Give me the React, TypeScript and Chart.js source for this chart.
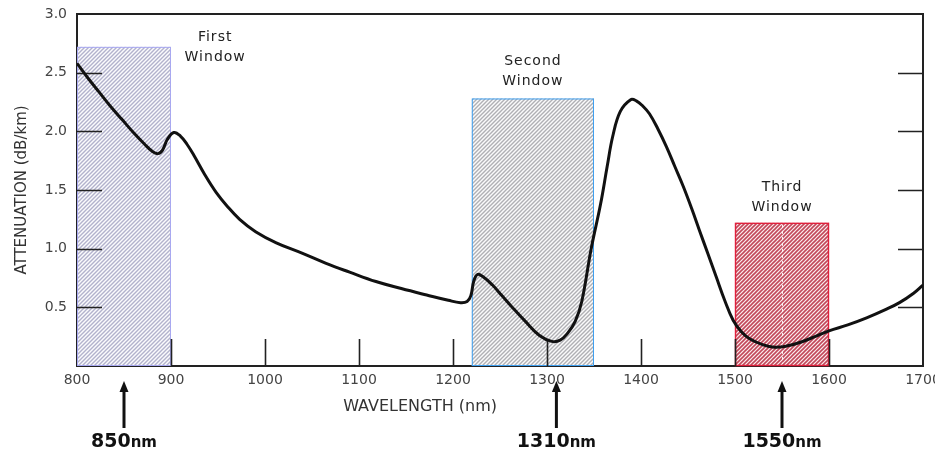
import React, { useEffect, useRef } from 'react';
import { Chart, registerables } from 'chart.js';

Chart.register(...registerables);

// ---- data ----
const wavelengths = [
  800, 812, 824, 836, 848, 860, 872, 880, 886, 891, 896, 903, 910, 917, 924, 936, 948, 960, 973, 990,
  1012, 1040, 1065, 1090, 1118, 1145, 1172, 1195, 1208, 1215, 1219, 1222, 1226, 1232, 1242, 1252, 1262,
  1277, 1292, 1305, 1314, 1322, 1330, 1337, 1347, 1357, 1364, 1370, 1378, 1389, 1395, 1402, 1409, 1418, 1427,
  1436, 1445, 1454, 1462, 1471, 1480, 1489, 1498, 1507, 1516, 1530, 1542, 1555, 1569, 1585, 1600, 1620,
  1640, 1660, 1675, 1690, 1700,
];
const attenuation = [
  2.58, 2.45, 2.33, 2.21, 2.1, 1.99, 1.89, 1.83, 1.81, 1.84, 1.93, 1.99, 1.96, 1.89, 1.8, 1.63, 1.48, 1.36, 1.25, 1.145,
  1.05, 0.96, 0.875, 0.8, 0.72, 0.66, 0.605, 0.56, 0.54, 0.55, 0.6, 0.72, 0.78, 0.76, 0.69, 0.6, 0.51,
  0.38, 0.26, 0.21, 0.22, 0.28, 0.38, 0.55, 1.0, 1.38, 1.7, 1.96, 2.17, 2.27, 2.26, 2.215, 2.15, 2.02, 1.87,
  1.7, 1.53, 1.34, 1.16, 0.96, 0.76, 0.56, 0.39, 0.29, 0.23, 0.18, 0.16, 0.17, 0.2, 0.25, 0.3, 0.35,
  0.41, 0.48, 0.54, 0.62, 0.69,
];
const xTickValues = [800, 900, 1000, 1100, 1200, 1300, 1400, 1500, 1600, 1700];
const yTickValues = [0, 0.5, 1.0, 1.5, 2.0, 2.5, 3.0];
const innerXTicks = [900, 1000, 1100, 1200, 1300, 1400, 1500, 1600];
const innerYTicks = [0.5, 1.0, 1.5, 2.0, 2.5];

const windowTitles = ['First', 'Second', 'Third'];
const windowSubtitle = 'Window';
const windowStart = [800, 1220, 1500];
const windowEnd = [900, 1350, 1600];
const windowTop = [2.72, 2.28, 1.22];
const windowLabelX = [947, 1285, 1550];
const windowLabelY = [2.8, 2.6, 1.52];

const markerWavelengths = [850, 1310, 1550];
const markerNumbers = ['850', '1310', '1550'];
const markerUnit = 'nm';

const xTitle = 'WAVELENGTH (nm)';
const xTitleCenter = 1165;
const yTitle = 'ATTENUATION (dB/km)';

// ---- styles ----
const windowStyles = [
  { bg: '#fbfbfd', fg: '#b2b2cc', border: '#a8a8f0', lw: 1, hl: 1.4, p: 4 },
  { bg: '#fbfbfb', fg: '#b0b0b4', border: '#40a0f0', lw: 1, hl: 1.4, p: 4 },
  { bg: '#fbecee', fg: '#c2485a', border: '#e0203c', lw: 1.4, hl: 1.6, p: 4 },
];

function makeHatch(ctx: CanvasRenderingContext2D, bg: string, fg: string, lw: number, p: number) {
  const c = document.createElement('canvas');
  c.width = p;
  c.height = p;
  const g = c.getContext('2d')!;
  g.fillStyle = bg;
  g.fillRect(0, 0, p, p);
  g.strokeStyle = fg;
  g.lineWidth = lw;
  g.beginPath();
  g.moveTo(0, p);
  g.lineTo(p, 0);
  g.moveTo(-p / 2, p / 2);
  g.lineTo(p / 2, -p / 2);
  g.moveTo(p / 2, p * 1.5);
  g.lineTo(p * 1.5, p / 2);
  g.stroke();
  return ctx.createPattern(c, 'repeat')!;
}

const decorPlugin = {
  id: 'decor',
  beforeDatasetsDraw(chart: any) {
    const { ctx, chartArea, scales } = chart;
    const xs = scales.x;
    const ys = scales.y;
    ctx.save();
    // frame top & right
    ctx.strokeStyle = '#222';
    ctx.lineWidth = 2;
    ctx.beginPath();
    ctx.moveTo(chartArea.left, chartArea.top);
    ctx.lineTo(chartArea.right, chartArea.top);
    ctx.lineTo(chartArea.right, chartArea.bottom);
    ctx.stroke();

    // windows
    windowStart.forEach((s, i) => {
      const st = windowStyles[i];
      const x0 = xs.getPixelForValue(s);
      const x1 = xs.getPixelForValue(windowEnd[i]);
      const y0 = ys.getPixelForValue(windowTop[i]);
      const y1 = ys.getPixelForValue(0);
      ctx.fillStyle = makeHatch(ctx, st.bg, st.fg, st.hl, st.p);
      ctx.fillRect(x0, y0, x1 - x0, y1 - y0);
      ctx.strokeStyle = st.border;
      ctx.lineWidth = st.lw;
      ctx.strokeRect(x0 + 0.5, y0 + 0.5, x1 - x0 - 1, y1 - y0 - 1);
    });
    // dotted centre in third window
    const xc = xs.getPixelForValue(markerWavelengths[2]);
    ctx.strokeStyle = 'rgba(255,255,255,0.9)';
    ctx.lineWidth = 1;
    ctx.setLineDash([3, 3]);
    ctx.beginPath();
    ctx.moveTo(xc + 0.5, ys.getPixelForValue(windowTop[2]) + 2);
    ctx.lineTo(xc + 0.5, ys.getPixelForValue(0) - 2);
    ctx.stroke();
    ctx.setLineDash([]);

    // inner ticks
    ctx.strokeStyle = '#222';
    ctx.lineWidth = 1.6;
    ctx.beginPath();
    innerYTicks.forEach((v) => {
      const y = Math.round(ys.getPixelForValue(v)) + 0.5;
      ctx.moveTo(chartArea.left, y);
      ctx.lineTo(chartArea.left + 25, y);
      ctx.moveTo(chartArea.right - 25, y);
      ctx.lineTo(chartArea.right, y);
    });
    innerXTicks.forEach((v) => {
      const x = Math.round(xs.getPixelForValue(v)) + 0.5;
      ctx.moveTo(x, chartArea.bottom);
      ctx.lineTo(x, chartArea.bottom - 27);
    });
    ctx.stroke();
    ctx.restore();
  },
  afterDraw(chart: any) {
    const { ctx, chartArea, scales } = chart;
    const xs = scales.x;
    const ys = scales.y;
    ctx.save();
    // axis titles
    ctx.fillStyle = '#333';
    ctx.textAlign = 'center';
    ctx.textBaseline = 'middle';
    ctx.font = '16px "DejaVu Sans"';
    ctx.fillText(xTitle, xs.getPixelForValue(xTitleCenter), chartArea.bottom + 41);
    ctx.save();
    ctx.translate(22, (chartArea.top + chartArea.bottom) / 2);
    ctx.rotate(-Math.PI / 2);
    ctx.font = '15px "DejaVu Sans"';
    ctx.fillText(yTitle, 0, 0);
    ctx.restore();

    // window labels
    ctx.fillStyle = '#222';
    ctx.font = '14px "DejaVu Sans"';
    (ctx as any).letterSpacing = '1px';
    windowTitles.forEach((t, i) => {
      const x = xs.getPixelForValue(windowLabelX[i]);
      const y = ys.getPixelForValue(windowLabelY[i]);
      ctx.fillText(t, x, y);
      ctx.fillText(windowSubtitle, x, y + 20);
    });
    (ctx as any).letterSpacing = '0px';

    // arrows + labels
    markerWavelengths.forEach((w, i) => {
      const x = xs.getPixelForValue(w);
      const tip = chartArea.bottom + 15;
      const base = chartArea.bottom + 62;
      ctx.strokeStyle = '#111';
      ctx.fillStyle = '#111';
      ctx.lineWidth = 3;
      ctx.beginPath();
      ctx.moveTo(x, tip + 8);
      ctx.lineTo(x, base);
      ctx.stroke();
      ctx.beginPath();
      ctx.moveTo(x, tip);
      ctx.lineTo(x - 4.5, tip + 11);
      ctx.lineTo(x + 4.5, tip + 11);
      ctx.closePath();
      ctx.fill();

      ctx.textBaseline = 'alphabetic';
      ctx.textAlign = 'left';
      ctx.font = 'bold 19px "DejaVu Sans"';
      const nw = ctx.measureText(markerNumbers[i]).width;
      ctx.font = 'bold 15px "DejaVu Sans"';
      const uw = ctx.measureText(markerUnit).width;
      const start = x - (nw + uw) / 2;
      const baseY = chartArea.bottom + 81;
      ctx.font = 'bold 19px "DejaVu Sans"';
      ctx.fillText(markerNumbers[i], start, baseY);
      ctx.font = 'bold 15px "DejaVu Sans"';
      ctx.fillText(markerUnit, start + nw, baseY);
    });
    ctx.restore();
  },
};

export default function App() {
  const ref = useRef<HTMLCanvasElement | null>(null);
  useEffect(() => {
    if (!ref.current) return;
    const chart = new Chart(ref.current, {
      type: 'line',
      data: {
        datasets: [
          {
            data: wavelengths.map((x, i) => ({ x, y: attenuation[i] })),
            borderColor: '#111',
            borderWidth: 3,
            pointRadius: 0,
            tension: 0.4,
            fill: false,
          },
        ],
      },
      options: {
        animation: false,
        responsive: false,
        layout: { padding: { top: 14, right: 12, left: 0, bottom: 0 } },
        plugins: { legend: { display: false }, tooltip: { enabled: false } },
        scales: {
          x: {
            type: 'linear',
            min: 800,
            max: 1700,
            afterBuildTicks: (s: any) => {
              s.ticks = xTickValues.map((value) => ({ value }));
            },
            afterFit: (s: any) => {
              s.height = 84;
              s.paddingLeft = 0;
              s.paddingRight = 0;
            },
            grid: { display: false, drawTicks: false },
            border: { display: true, color: '#222', width: 2 },
            ticks: {
              padding: 6,
              color: '#444',
              font: { family: '"DejaVu Sans"', size: 14 },
              maxRotation: 0,
              autoSkip: false,
              callback: (v: any) => String(v),
            },
          },
          y: {
            type: 'linear',
            min: 0,
            max: 3,
            afterBuildTicks: (s: any) => {
              s.ticks = yTickValues.map((value) => ({ value }));
            },
            afterFit: (s: any) => {
              s.width = 77;
              s.paddingTop = 0;
              s.paddingBottom = 0;
            },
            grid: { display: false, drawTicks: false },
            border: { display: true, color: '#222', width: 2 },
            ticks: {
              padding: 10,
              color: '#444',
              font: { family: '"DejaVu Sans"', size: 14 },
              callback: (v: any) => (Number(v) === 0 ? '' : Number(v).toFixed(1)),
            },
          },
        },
      },
      plugins: [decorPlugin],
    } as any);
    return () => chart.destroy();
  }, []);
  return (
    <div style={{ position: 'absolute', left: 0, top: 0, width: 935, height: 450, background: '#fff' }}>
      <canvas ref={ref} width={935} height={450} />
    </div>
  );
}
